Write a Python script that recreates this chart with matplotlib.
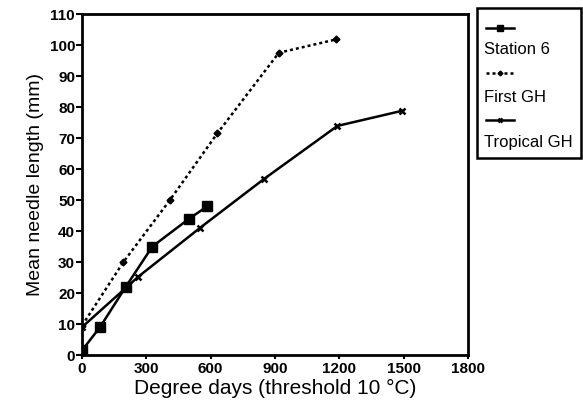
import matplotlib
matplotlib.use("Agg")
import matplotlib.pyplot as plt
from matplotlib.lines import Line2D
from matplotlib.patches import Rectangle

plt.rcParams['font.family'] = ['Liberation Sans', 'DejaVu Sans']

station6_x = [0, 84, 204, 328, 500, 585]
station6_y = [1.5, 9, 22, 35, 44, 48]
firstgh_x = [0, 193, 410, 631, 918, 1185]
firstgh_y = [9.5, 30, 50, 71.5, 97.5, 101.8]
tropical_x = [0, 263, 550, 849, 1191, 1494]
tropical_y = [9, 25.3, 41, 56.8, 73.9, 78.8]
series_labels = ["Station 6", "First GH", "Tropical GH"]
xticks = [0, 300, 600, 900, 1200, 1500, 1800]
yticks = list(range(0, 111, 10))

fig = plt.figure(figsize=(5.83, 4.12), dpi=100)
ax = fig.add_axes([0.1407, 0.1383, 0.662, 0.8277])

styles = [
    dict(color='black', lw=1.8, ls='-', marker='s', ms=6.5),
    dict(color='black', lw=1.8, ls=(0, (1.2, 1.2)), marker='D', ms=3.5),
    dict(color='black', lw=1.8, ls='-', marker='x', ms=5, mew=1.8),
]
ax.plot(station6_x, station6_y, **styles[0])
ax.plot(firstgh_x, firstgh_y, **styles[1])
ax.plot(tropical_x, tropical_y, **styles[2])

ax.set_xlim(0, 1800)
ax.set_ylim(0, 110)
ax.set_xticks(xticks)
ax.set_yticks(yticks)
for s in ax.spines.values():
    s.set_linewidth(2)
ax.tick_params(axis='y', direction='out', length=4, width=1.5, labelsize=11, pad=1)
ax.tick_params(axis='x', direction='out', length=3, width=1.5, labelsize=11, pad=2)
for t in ax.get_xticklabels() + ax.get_yticklabels():
    t.set_fontweight('bold')
ax.set_xlabel("Degree days (threshold 10 °C)", fontsize=15, labelpad=2)
ax.set_ylabel("Mean needle length (mm)", fontsize=14, labelpad=4)

# legend drawn manually: handle above label
W, H = 583, 412
def fx(px):
    return px / W
def fy(py):
    return 1 - py / H

fig.add_artist(Rectangle((fx(477), fy(158)), fx(581) - fx(477), fy(8) - fy(158),
                         transform=fig.transFigure, fill=False, lw=1.8, ec='black'))
handle_y = [28, 73, 120]
label_y = [50, 97, 142]
for st, hy, ly, lab in zip(styles, handle_y, label_y, series_labels):
    st2 = dict(st)
    st2['ms'] = st['ms'] * 0.7
    fig.add_artist(Line2D([fx(486), fx(500), fx(514)], [fy(hy)] * 3,
                          transform=fig.transFigure, markevery=[1], **st2))
    fig.text(fx(484), fy(ly), lab, fontsize=12, va='center', ha='left')

fig.savefig("out.png", dpi=100)
